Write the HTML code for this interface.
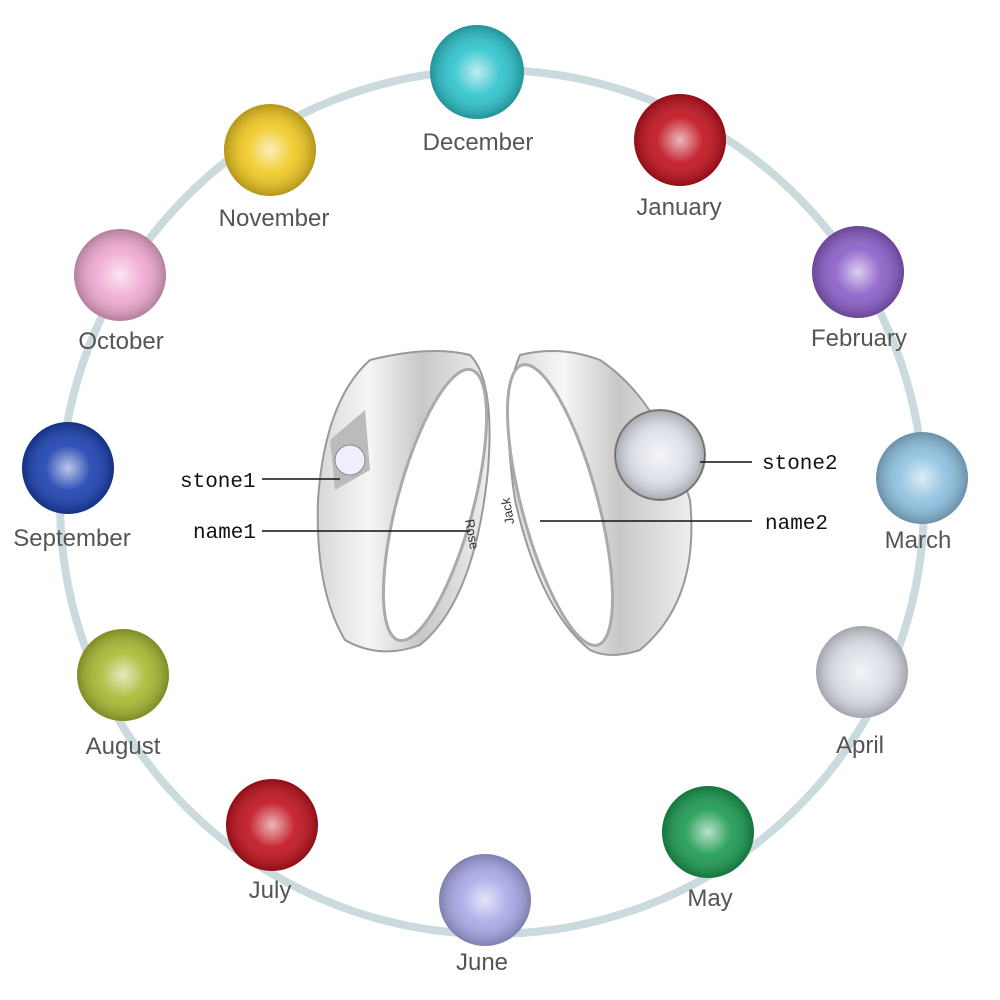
<!DOCTYPE html>
<html><head><meta charset="utf-8"><style>
html,body{margin:0;padding:0;background:#fff;}
svg{display:block}
</style></head><body>
<svg width="1000" height="1000" viewBox="0 0 1000 1000" xmlns="http://www.w3.org/2000/svg">
<defs>
<radialGradient id="g" cx="50%" cy="50%" r="50%">
<stop offset="0" stop-color="#fff" stop-opacity="0.7"/>
<stop offset="0.5" stop-color="#fff" stop-opacity="0.1"/>
<stop offset="1" stop-color="#000" stop-opacity="0.25"/>
</radialGradient>
<linearGradient id="silver" x1="0" y1="0" x2="1" y2="0">
<stop offset="0" stop-color="#d8d8d8"/><stop offset="0.3" stop-color="#f6f6f6"/>
<stop offset="0.6" stop-color="#c8c8c8"/><stop offset="1" stop-color="#eee"/>
</linearGradient>
</defs>
<circle cx="492" cy="502" r="432" fill="none" stroke="#cadadd" stroke-width="8"/>
<g stroke="none">
<circle cx="477" cy="72" r="47" fill="#2cc3cc"/><circle cx="477" cy="72" r="47" fill="url(#g)"/>
<circle cx="680" cy="140" r="46" fill="#c0101c"/><circle cx="680" cy="140" r="46" fill="url(#g)"/>
<circle cx="858" cy="272" r="46" fill="#8a5cc8"/><circle cx="858" cy="272" r="46" fill="url(#g)"/>
<circle cx="922" cy="478" r="46" fill="#8cc0e0"/><circle cx="922" cy="478" r="46" fill="url(#g)"/>
<circle cx="862" cy="672" r="46" fill="#d8dce4"/><circle cx="862" cy="672" r="46" fill="url(#g)"/>
<circle cx="708" cy="832" r="46" fill="#1a9a50"/><circle cx="708" cy="832" r="46" fill="url(#g)"/>
<circle cx="485" cy="900" r="46" fill="#a8a8e8"/><circle cx="485" cy="900" r="46" fill="url(#g)"/>
<circle cx="272" cy="825" r="46" fill="#c0101c"/><circle cx="272" cy="825" r="46" fill="url(#g)"/>
<circle cx="123" cy="675" r="46" fill="#a8b830"/><circle cx="123" cy="675" r="46" fill="url(#g)"/>
<circle cx="68" cy="468" r="46" fill="#1a40b0"/><circle cx="68" cy="468" r="46" fill="url(#g)"/>
<circle cx="120" cy="275" r="46" fill="#f0a8d0"/><circle cx="120" cy="275" r="46" fill="url(#g)"/>
<circle cx="270" cy="150" r="46" fill="#f0c820"/><circle cx="270" cy="150" r="46" fill="url(#g)"/>
</g>
<g font-family="Liberation Sans, sans-serif" font-size="24" fill="#555" text-anchor="middle">
<text x="478" y="150">December</text>
<text x="679" y="215">January</text>
<text x="859" y="346">February</text>
<text x="918" y="548">March</text>
<text x="860" y="753">April</text>
<text x="710" y="906">May</text>
<text x="482" y="970">June</text>
<text x="270" y="898">July</text>
<text x="123" y="754">August</text>
<text x="72" y="546">September</text>
<text x="121" y="349">October</text>
<text x="274" y="226">November</text>
</g>
<!-- left ring -->
<path d="M370 360 Q430 345 470 355 Q495 380 488 470 Q475 600 420 645 Q380 660 345 640 Q315 590 318 500 Q325 400 370 360Z" fill="url(#silver)" stroke="#999" stroke-width="2"/>
<ellipse cx="435" cy="505" rx="38" ry="140" fill="#fff" stroke="#aaa" stroke-width="3" transform="rotate(15 435 505)"/>
<path d="M330 440 L365 410 L370 470 L335 490Z" fill="#bbb"/>
<circle cx="350" cy="460" r="15" fill="#eef" stroke="#888"/>
<!-- right ring -->
<path d="M520 355 Q560 345 600 360 Q660 400 690 500 Q700 600 640 650 Q610 660 590 650 Q540 610 515 500 Q500 400 520 355Z" fill="url(#silver)" stroke="#999" stroke-width="2"/>
<ellipse cx="560" cy="505" rx="38" ry="145" fill="#fff" stroke="#aaa" stroke-width="3" transform="rotate(-15 560 505)"/>
<circle cx="660" cy="455" r="45" fill="#dde0e8" stroke="#888" stroke-width="2"/>
<circle cx="660" cy="455" r="45" fill="url(#g)"/>
<g font-family="Liberation Mono, monospace" font-size="21" fill="#111">
<text x="180" y="487">stone1</text>
<text x="193" y="538">name1</text>
<text x="762" y="469">stone2</text>
<text x="765" y="529">name2</text>
</g>
<g stroke="#111" stroke-width="1.5">
<line x1="262" y1="479" x2="340" y2="479"/>
<line x1="262" y1="531" x2="470" y2="531"/>
<line x1="700" y1="462" x2="752" y2="462"/>
<line x1="540" y1="521" x2="752" y2="521"/>
</g>
<text x="465" y="520" font-family="Liberation Sans, sans-serif" font-size="13" fill="#333" transform="rotate(80 465 520)">Rose</text>
<text x="522" y="500" font-family="Liberation Sans, sans-serif" font-size="13" fill="#333" transform="rotate(-100 528 515)">Jack</text>
</svg>
</body></html>
